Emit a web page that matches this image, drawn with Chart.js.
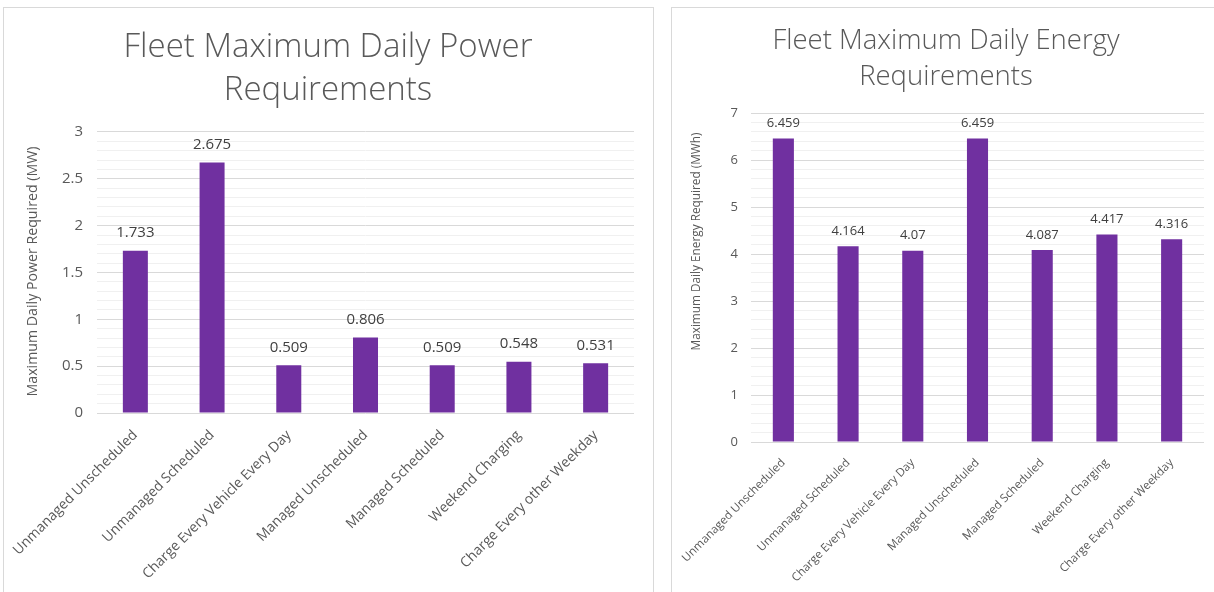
<!DOCTYPE html>
<html>
<head>
<meta charset="utf-8">
<title>Fleet Maximum Daily Requirements</title>
<script src="https://cdn.jsdelivr.net/npm/chart.js@4.4.1/dist/chart.umd.min.js"></script>
<style>
    html, body { margin: 0; padding: 0; background: #fff; overflow: hidden; }
    body { width: 1214px; height: 592px; position: relative; }
    .panel { position: absolute; top: 7px; height: 600px; border: 1px solid #d9d9d9; background: #fff; }
    #powerPanel { left: 3px; width: 649px; }
    #energyPanel { left: 671px; width: 560px; }
    canvas { position: absolute; left: 0; top: 0; }
</style>
</head>
<body>
<div class="panel" id="powerPanel"><canvas id="powerChart" width="648" height="584"></canvas></div>
<div class="panel" id="energyPanel"><canvas id="energyChart" width="542" height="584"></canvas></div>
<script>
// Chart data
const scenarios = [
    'Unmanaged Unscheduled',
    'Unmanaged Scheduled',
    'Charge Every Vehicle Every Day',
    'Managed Unscheduled',
    'Managed Scheduled',
    'Weekend Charging',
    'Charge Every other Weekday'
];
const powerValues = [1.733, 2.675, 0.509, 0.806, 0.509, 0.548, 0.531];
const energyValues = [6.459, 4.164, 4.07, 6.459, 4.087, 4.417, 4.316];
const powerTickLabels = [0, 0.5, 1, 1.5, 2, 2.5, 3];
const energyTickLabels = [0, 1, 2, 3, 4, 5, 6, 7];

const FONT = '"Open Sans", "Liberation Sans", sans-serif';
const BAR_COLOR = '#7030a0';

/**
 * Draws the value above each bar (Excel style data labels)
 */
const barValueLabels = {
    id: 'barValueLabels',
    afterDatasetsDraw(chart, args, opts) {
        const ctx = chart.ctx;
        const meta = chart.getDatasetMeta(0);
        const values = chart.data.datasets[0].data;
        ctx.save();
        ctx.font = opts.size + 'px ' + FONT;
        ctx.fillStyle = '#404040';
        ctx.textAlign = 'center';
        ctx.textBaseline = 'middle';
        meta.data.forEach((bar, i) => {
            ctx.fillText(String(values[i]), bar.x, bar.y - opts.offset);
        });
        ctx.restore();
    }
};

/**
 * Vertical axis title; Excel does not always centre it on the plot
 */
const sideTitle = {
    id: 'sideTitle',
    afterDraw(chart, args, opts) {
        const area = chart.chartArea;
        const ctx = chart.ctx;
        ctx.save();
        ctx.translate(opts.x, (area.top + area.bottom) / 2 + opts.shift);
        ctx.rotate(-Math.PI / 2);
        ctx.font = opts.size + 'px ' + FONT;
        ctx.fillStyle = '#595959';
        ctx.textAlign = 'center';
        ctx.textBaseline = 'middle';
        ctx.fillText(opts.text, 0, 0);
        ctx.restore();
    }
};

function isLabelled(value, labels) {
    return labels.some(t => Math.abs(t - value) < 1e-6);
}

/**
 * Builds one bar chart; layout numbers are per panel
 */
function buildChart(canvasId, cfg) {
    const ctx = document.getElementById(canvasId).getContext('2d');
    return new Chart(ctx, {
        type: 'bar',
        data: {
            labels: scenarios,
            datasets: [{
                data: cfg.values,
                backgroundColor: BAR_COLOR,
                borderWidth: 0,
                barPercentage: 0.326,
                categoryPercentage: 1
            }]
        },
        plugins: [barValueLabels, sideTitle],
        options: {
            responsive: false,
            animation: false,
            events: [],
            // left padding keeps the title centred on the panel
            layout: { padding: { left: cfg.padLeft, right: cfg.padRight, top: 0, bottom: 0 } },
            plugins: {
                legend: { display: false },
                tooltip: { enabled: false },
                title: {
                    display: true,
                    text: cfg.title,
                    color: '#595959',
                    font: { family: FONT, size: cfg.titleSize, weight: '300', lineHeight: cfg.titleLineHeight },
                    padding: { top: cfg.titleTop, bottom: cfg.titleBottom }
                },
                barValueLabels: { size: cfg.valueSize, offset: cfg.valueOffset },
                sideTitle: { text: cfg.yTitle, size: cfg.yTitleSize, x: cfg.yTitleX, shift: cfg.yTitleShift }
            },
            scales: {
                x: {
                    grid: { display: false },
                    border: { display: false },
                    ticks: {
                        color: '#595959',
                        font: { family: FONT, size: cfg.xTickSize },
                        minRotation: 45,
                        maxRotation: 45,
                        autoSkip: false,
                        padding: cfg.xTickPad
                    },
                    afterFit(scale) {
                        scale.height = cfg.xAxisHeight;
                        // keep the plot where Excel put it, labels may run to the edge
                        scale.paddingLeft = 0;
                        scale.paddingRight = 0;
                    }
                },
                y: {
                    min: 0,
                    max: cfg.max,
                    border: { display: false },
                    grid: {
                        drawTicks: false,
                        lineWidth: 1,
                        color: c => isLabelled(c.tick.value, cfg.tickLabels) ? '#d9d9d9' : '#f0f0f0'
                    },
                    ticks: {
                        stepSize: cfg.minorStep,
                        autoSkip: false,
                        color: '#595959',
                        padding: cfg.yTickPad,
                        font: { family: FONT, size: cfg.yTickSize },
                        callback: v => isLabelled(v, cfg.tickLabels) ? String(Math.round(v * 10) / 10) : ''
                    },
                    afterFit(scale) { scale.width = cfg.yAxisWidth; }
                }
            }
        }
    });
}

buildChart('powerChart', {
    values: powerValues,
    tickLabels: powerTickLabels,
    max: 3,
    minorStep: 0.1,
    title: ['Fleet Maximum Daily Power', 'Requirements'],
    titleSize: 33,
    titleLineHeight: 1.303,
    titleTop: 18,
    titleBottom: 20,
    yTitle: 'Maximum Daily Power Required (MW)',
    yTitleSize: 14.2,
    yTitleX: 29,
    yTitleShift: -1,
    yTickSize: 15,
    yTickPad: 14,
    xTickSize: 14,
    xTickPad: 6,
    yAxisWidth: 75,
    xAxisHeight: 179,
    padLeft: 18,
    padRight: 18,
    valueSize: 15,
    valueOffset: 18
});

buildChart('energyChart', {
    values: energyValues,
    tickLabels: energyTickLabels,
    max: 7,
    minorStep: 0.2,
    title: ['Fleet Maximum Daily Energy', 'Requirements'],
    titleSize: 27.5,
    titleLineHeight: 1.31,
    titleTop: 15,
    titleBottom: 18,
    yTitle: 'Maximum Daily Energy Required (MWh)',
    yTitleSize: 11.8,
    yTitleX: 25,
    yTitleShift: -36,
    yTickSize: 13,
    yTickPad: 13,
    xTickSize: 11.6,
    xTickPad: 6,
    yAxisWidth: 63,
    xAxisHeight: 150,
    padLeft: 16,
    padRight: 10,
    valueSize: 13,
    valueOffset: 15
});
</script>
</body>
</html>
